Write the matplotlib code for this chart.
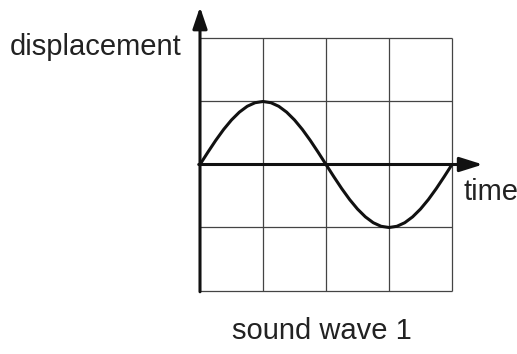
import matplotlib
matplotlib.use("Agg")
import matplotlib.pyplot as plt
import numpy as np

# Wave samples (time in grid cells, displacement in grid cells)
wave_time = [0.0, 0.125, 0.25, 0.375, 0.5, 0.625, 0.75, 0.875, 1.0, 1.125, 1.25, 1.375,
             1.5, 1.625, 1.75, 1.875, 2.0, 2.125, 2.25, 2.375, 2.5, 2.625, 2.75, 2.875,
             3.0, 3.125, 3.25, 3.375, 3.5, 3.625, 3.75, 3.875, 4.0]
wave_displacement = [0.0, 0.195, 0.383, 0.556, 0.707, 0.831, 0.924, 0.981, 1.0, 0.981,
                     0.924, 0.831, 0.707, 0.556, 0.383, 0.195, 0.0, -0.195, -0.383,
                     -0.556, -0.707, -0.831, -0.924, -0.981, -1.0, -0.981, -0.924,
                     -0.831, -0.707, -0.556, -0.383, -0.195, 0.0]
grid_x = [1, 2, 3, 4]
grid_y = [-2, -1, 1, 2]
y_label = "displacement"
x_label = "time"
title = "sound wave 1"

plt.rcParams['font.family'] = ['Liberation Sans', 'DejaVu Sans']

fig = plt.figure(figsize=(5.17, 3.54), dpi=100)
ax = fig.add_axes([0, 0, 1, 1])
ax.set_axis_off()
cell = 63.0
ax.set_xlim(-200 / cell, 317 / cell)
ax.set_ylim(-(354 - 164.5) / cell, 164.5 / cell)

grid_col = '#444444'
ax.vlines(grid_x, -2, 2, colors=grid_col, lw=0.9)
ax.hlines(grid_y, 0, 4, colors=grid_col, lw=0.9)

# axes with arrows
ax.annotate('', xy=(0, 2.5), xytext=(0, -2.02),
            arrowprops=dict(arrowstyle='-|>,head_length=0.65,head_width=0.22',
                            lw=2.2, color='#111111', mutation_scale=20,
                            shrinkA=0, shrinkB=0))
ax.annotate('', xy=(4.49, 0), xytext=(-0.02, 0),
            arrowprops=dict(arrowstyle='-|>,head_length=0.7,head_width=0.22',
                            lw=2.2, color='#111111', mutation_scale=20,
                            shrinkA=0, shrinkB=0))

ax.plot(wave_time, wave_displacement, color='#111111', lw=2.2,
        solid_capstyle='round', solid_joinstyle='round')

ax.text(-0.286, 1.738, y_label, ha='right', va='baseline', fontsize=21, color='#222222')
ax.text(4.175, -0.56, x_label, ha='left', va='baseline', fontsize=21, color='#222222')
ax.text(1.94, -2.77, title, ha='center', va='baseline', fontsize=21, color='#222222')

fig.savefig('out.png', dpi=100)
